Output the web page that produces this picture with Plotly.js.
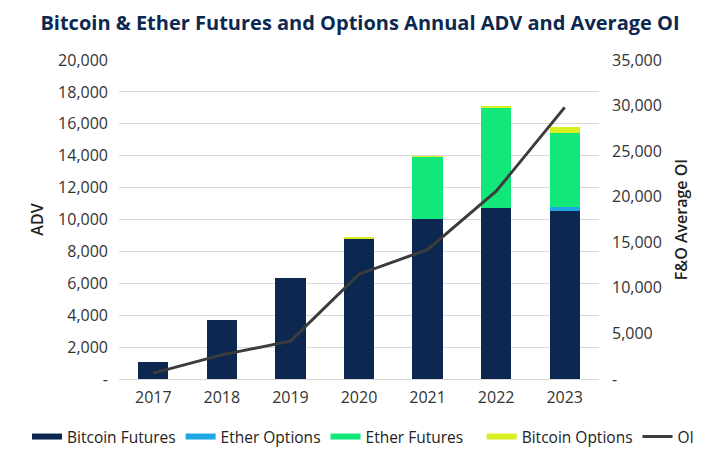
<!DOCTYPE html>
<html>
<head>
<meta charset="utf-8">
<script src="https://cdn.plot.ly/plotly-3.0.1.min.js"></script>
<style>html,body{margin:0;padding:0;background:#fff}#chart{width:720px;height:459px}</style>
</head>
<body>
<div id="chart"></div>
<script>
const years = ['2017','2018','2019','2020','2021','2022','2023'];
const bitcoinFutures = [1050, 3700, 6330, 8760, 10030, 10700, 10550];
const etherOptions   = [0, 0, 0, 0, 0, 0, 210];
const etherFutures   = [0, 0, 0, 0, 3870, 6310, 4660];
const bitcoinOptions = [0, 0, 0, 160, 80, 90, 360];
const averageOI      = [650, 2650, 4150, 11500, 14200, 20600, 29800];

const leftTicks = [0, 2000, 4000, 6000, 8000, 10000, 12000, 14000, 16000, 18000, 20000];
const leftTickText = ['-', '2,000', '4,000', '6,000', '8,000', '10,000', '12,000', '14,000', '16,000', '18,000', '20,000'];
const rightTicks = [0, 5000, 10000, 15000, 20000, 25000, 30000, 35000];
const rightTickText = ['-', '5,000', '10,000', '15,000', '20,000', '25,000', '30,000', '35,000'];

const seriesNames = ['Bitcoin Futures', 'Ether Options', 'Ether Futures', 'Bitcoin Options'];
const seriesValues = [bitcoinFutures, etherOptions, etherFutures, bitcoinOptions];
const seriesColors = ['#0c2850', '#1ea6e4', '#12e87a', '#d8f020'];
const seriesLegend = ['legend', 'legend', 'legend', 'legend2'];

const font = '"Open Sans", sans-serif';
const bw = 0.44;
const traces = [];
seriesNames.forEach((n, i) => {
  traces.push({type:'bar', name:n, x:years, y:seriesValues[i], marker:{color:seriesColors[i]}, width:bw, showlegend:false});
});
// legend entries drawn as short thick strokes, like the reference
seriesNames.forEach((n, i) => {
  traces.push({type:'scatter', mode:'lines', name:n, x:[null], y:[null], line:{color:seriesColors[i], width:6}, legend:seriesLegend[i], showlegend:true, hoverinfo:'skip'});
});
traces.push({type:'scatter', mode:'lines', name:'OI', x:years, y:averageOI, yaxis:'y2', line:{color:'#3c3c3c', width:3}, legend:'legend2'});

const layout = {
  width:720, height:459,
  margin:{l:119, r:121, t:60, b:80},
  barmode:'stack',
  paper_bgcolor:'#fff', plot_bgcolor:'#fff',
  font:{family:font, color:'#333', size:15},
  title:{text:'<b>Bitcoin & Ether Futures and Options Annual ADV and Average OI</b>', x:0.5, xanchor:'center', y:0.95, yanchor:'middle', font:{family:font, size:20, color:'#0c2850'}},
  xaxis:{type:'category', showgrid:false, showline:true, linecolor:'#d9d9d9', linewidth:1, ticks:'', ticklabelstandoff:4, tickfont:{size:16, color:'#333'}},
  yaxis:{range:[0,20000], tickvals:leftTicks, ticktext:leftTickText, showgrid:true, gridcolor:'#d9d9d9', zeroline:false, ticks:'', ticklabelstandoff:10, tickfont:{size:16, color:'#333'},
         title:{text:'ADV', font:{size:16, color:'#222', weight:600}, standoff:10}},
  yaxis2:{range:[0,35000], overlaying:'y', side:'right', tickvals:rightTicks, ticktext:rightTickText, showgrid:false, zeroline:false, ticks:'', ticklabelstandoff:12, tickfont:{size:16, color:'#333'},
          title:{text:'F&O Average OI', font:{size:16, color:'#222', weight:600}, standoff:14}},
  legend:{orientation:'h', xref:'container', yref:'container', x:0.0375, xanchor:'left', y:0.048, yanchor:'middle', font:{size:15.5, color:'#222'}, traceorder:'normal', itemwidth:30},
  legend2:{orientation:'h', xref:'container', yref:'container', x:0.669, xanchor:'left', y:0.048, yanchor:'middle', font:{size:15.5, color:'#222'}, traceorder:'normal', itemwidth:30},
  showlegend:true
};

Plotly.newPlot('chart', traces, layout, {displayModeBar:false, staticPlot:true});
</script>
</body>
</html>
